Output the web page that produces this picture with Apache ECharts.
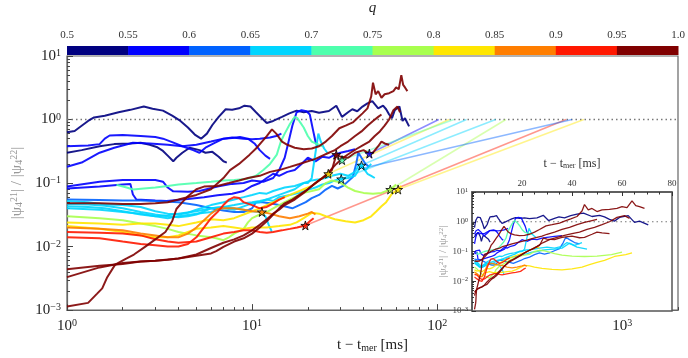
<!DOCTYPE html>
<html>
<head>
<meta charset="utf-8">
<script src="https://cdn.jsdelivr.net/npm/echarts@6/dist/echarts.min.js"></script>
<style>
html, body { margin: 0; padding: 0; background: #fff; }
#chart { width: 688px; height: 358px; }
</style>
</head>
<body>
<div id="chart"></div>
<script>
// colour bins of q
var qEdges = [0.5, 0.55, 0.6, 0.65, 0.7, 0.75, 0.8, 0.85, 0.9, 0.95, 1.0];
var qColors = ['#000080', '#0000ff', '#0062ff', '#00d5ff', '#4effad', '#a8ff4e', '#ffe600', '#ff7e00', '#ff1800', '#800000'];

// curves: [t - t_mer (ms), |psi21| / |psi22|]
var navy1 = [[1,0.63],[1.1,0.66],[1.2,0.8],[1.3,0.95],[1.4,1.08],[1.6,1.15],[1.9,1.3],[2.2,1.42],[2.6,1.6],[2.9,1.48],[3.3,1.38],[3.7,1.15],[4.1,0.95],[4.5,0.75],[4.9,0.58],[5.3,0.5],[5.7,0.6],[6.1,0.82],[6.6,1.1],[7.2,1.45],[7.8,1.42],[8.5,1.5],[9.1,1.65],[9.8,1.6],[10.5,1.3],[11.3,1.05],[12,0.88],[13,0.95],[14.5,1.1],[15.9,1.25],[17.4,1.38],[19,1.3],[21,1.36],[23,1.28],[26,1.36],[28.5,1.65],[30.6,1.1],[33,1.3],[34.8,1.45],[37,1.35],[39.5,1.6],[42,1.8],[44.6,1.95],[48,1.5],[51,1.65],[53,1.45],[55,1.2],[57,1.05],[59,1.4],[62.5,1.6],[65,0.95],[67,1.05],[70.5,0.78]];
var navy2 = [[1,0.3],[1.2,0.33],[1.5,0.38],[1.8,0.41],[2.2,0.42],[2.5,0.43],[2.8,0.4],[3.05,0.37],[3.3,0.32],[3.5,0.27],[3.75,0.22],[3.9,0.25],[4.2,0.3],[4.6,0.36],[5.2,0.33],[5.6,0.3],[6.1,0.31],[6.6,0.26],[7,0.22],[7.3,0.21]];
var blue1 = [[1,0.38],[1.3,0.39],[1.5,0.41],[1.6,0.5],[1.7,0.56],[2,0.57],[2.5,0.55],[3,0.53],[3.3,0.5],[3.7,0.44],[4.2,0.38],[4.8,0.33],[5.2,0.3],[5.6,0.36],[6.2,0.42],[7,0.5],[7.8,0.51],[8.6,0.53],[9.5,0.5],[10.3,0.42],[11,0.33],[11.8,0.27],[12.5,0.24]];
var blue2 = [[1,0.18],[1.2,0.21],[1.5,0.3],[1.8,0.36],[2.27,0.43],[2.8,0.42],[3.5,0.4],[4.2,0.38],[5,0.4],[6,0.45],[7,0.5],[7.8,0.52],[9,0.5],[10,0.49],[11,0.5],[12.5,0.52],[13.5,0.55],[14.4,0.6]];
var blue3 = [[1,0.088],[1.5,0.105],[2,0.112],[3,0.112],[3.3,0.105],[3.5,0.085],[3.75,0.074],[4.5,0.073],[5.2,0.075],[6.5,0.088],[7.8,0.097],[9,0.1],[10,0.11],[11.5,0.105],[13,0.12],[14,0.16],[15,0.25],[15.6,0.4],[16.5,0.8],[17.4,1.3],[18.5,1.4],[19.7,1.35],[20.5,1.2],[21.3,0.7],[22,0.45],[22.6,0.38]];
var blue4 = [[1,0.082],[1.5,0.088],[2,0.095],[2.2,0.097],[2.27,0.066],[2.37,0.055],[3,0.053],[3.45,0.052],[4.5,0.056],[5.5,0.06],[6.5,0.064],[7.8,0.068],[9,0.075],[10,0.09],[11,0.1],[12,0.12],[13,0.14],[14,0.13],[15.5,0.15],[17,0.16],[18.5,0.2],[20,0.25],[22,0.22],[24,0.26],[26,0.25],[28,0.28],[30,0.3],[33,0.32],[36,0.34]];
var royal1 = [[1,0.055],[1.5,0.054],[2,0.053],[2.5,0.053],[3,0.052],[4,0.05],[5,0.045],[6,0.04],[7,0.037],[8,0.035],[9,0.035],[10,0.04],[10.5,0.05],[11.4,0.05],[12.5,0.048],[14,0.045],[15.5,0.042],[16.5,0.04],[18,0.045],[19.5,0.05],[21,0.058],[23,0.065],[25,0.079],[27,0.09],[29,0.082],[31,0.09],[32,0.098],[35,0.125],[36.5,0.2],[37.5,0.3],[39,0.25],[41,0.2],[43,0.18]];
var cyan1 = [[1,0.052],[1.3,0.05],[1.6,0.046],[2,0.045],[2.5,0.042],[3,0.036],[3.5,0.033],[4,0.032],[4.5,0.034],[5,0.038],[6,0.045],[7,0.05],[8,0.055],[9,0.06],[10,0.065],[11,0.07],[12,0.068],[13,0.075],[15,0.085],[17,0.09],[19,0.1],[21,0.11],[23,0.115],[25,0.12],[27,0.13],[30,0.14],[33,0.13],[36,0.15],[38,0.2],[40,0.17],[42,0.14],[44,0.13],[46,0.12]];
var cyan2 = [[1,0.047],[1.3,0.046],[1.6,0.044],[2,0.04],[2.5,0.035],[3,0.032],[3.5,0.03],[4,0.029],[4.5,0.03],[5,0.032],[5.5,0.036],[6,0.04],[7,0.042],[8,0.045],[9,0.048],[10,0.05],[11,0.052],[12,0.055],[13,0.052],[14,0.06],[16,0.065],[18,0.07],[20,0.078],[22,0.085],[24,0.095],[26,0.1],[28,0.11],[30,0.116],[33,0.12],[36,0.13],[39,0.19],[41,0.16],[44,0.2]];
var cyan3 = [[1,0.043],[1.3,0.042],[1.6,0.04],[2,0.036],[2.5,0.032],[3,0.03],[3.5,0.031],[4,0.033],[5,0.036],[6,0.04],[7,0.042],[8,0.04],[9,0.038],[10,0.036],[11,0.035],[11.8,0.03],[12.3,0.022],[12.8,0.017]];
var cyan4 = [[1,0.04],[1.5,0.038],[2,0.035],[2.5,0.033],[3,0.03],[3.5,0.028],[4,0.03],[5,0.033],[6,0.035],[7,0.04],[8,0.038],[9,0.043],[10,0.048],[11,0.05],[12,0.055],[13,0.06],[14,0.065],[15,0.07],[16,0.075],[17,0.08],[18,0.09],[19,0.1],[20,0.1],[21,0.12],[22,0.3],[22.8,0.6],[23.5,0.45],[24.5,0.35],[25.5,0.3]];
var mint1 = [[1.85,0.094],[2.1,0.085],[2.27,0.079],[2.6,0.082],[3,0.085],[3.5,0.09],[4,0.095],[5,0.1],[6,0.105],[7,0.11],[8,0.112],[9.3,0.116],[10.5,0.13],[11.5,0.16],[12.5,0.2],[13.6,0.28],[14.3,0.45],[15,0.6],[16,0.85],[17,1.1],[17.6,1.05],[18.2,0.9],[19,0.75],[20,0.55],[21,0.45],[22,0.42],[23,0.4],[24,0.38]];
var lime1 = [[1,0.03],[1.5,0.028],[2,0.026],[2.5,0.023],[3,0.021],[3.5,0.019],[4,0.017],[5,0.015],[6,0.014],[6.4,0.0135],[7,0.0126],[7.5,0.014],[8,0.016],[9,0.019],[9.5,0.024],[10,0.028],[11,0.032],[12,0.035],[13,0.04],[14,0.045],[15,0.05],[17,0.06],[19,0.07],[21,0.075],[23,0.08],[25,0.1],[27,0.11],[29,0.105],[31,0.095],[33,0.085],[36,0.075],[40,0.07],[45,0.068],[50,0.07],[55.8,0.079],[60,0.095]];
var yellow1 = [[1,0.021],[1.5,0.019],[2,0.017],[2.5,0.015],[3,0.014],[3.5,0.014],[4,0.015],[4.5,0.017],[5,0.019],[6,0.02],[7,0.021],[8,0.02],[9,0.019],[10,0.02],[12,0.02],[14,0.021],[16,0.022],[17.4,0.024],[19,0.028],[21,0.034],[23,0.033],[25,0.03],[28,0.027],[32,0.025],[36,0.024],[40,0.026],[44,0.03],[47,0.036],[50,0.043],[53,0.05],[57,0.068],[61.5,0.079],[64,0.09]];
var yellow2 = [[1,0.024],[1.5,0.023],[2,0.022],[2.5,0.023],[3,0.023],[3.5,0.022],[4,0.021],[5,0.024],[6,0.027],[7,0.026],[8,0.028],[9,0.032],[10,0.036],[11,0.04],[12,0.045],[13,0.05],[14,0.055],[15,0.06],[17,0.07],[19,0.08],[21,0.09],[23,0.11],[25.8,0.14],[27,0.13]];
var orange1 = [[1,0.02],[1.5,0.019],[2,0.018],[2.5,0.016],[3,0.015],[3.5,0.014],[4,0.014],[4.5,0.016],[5,0.02],[5.5,0.026],[6,0.033],[6.5,0.039],[7,0.04],[8,0.04],[9,0.038],[10,0.036],[11.3,0.035],[12.5,0.033],[14,0.03],[16,0.028],[18,0.03],[20,0.033],[21,0.035],[22,0.032]];
var red1 = [[1,0.017],[1.5,0.0165],[2,0.016],[2.5,0.015],[3,0.013],[3.5,0.012],[4,0.0115],[5,0.012],[6,0.014],[7,0.016],[8,0.017],[9,0.018],[10,0.018],[11,0.017],[12,0.0165],[13,0.017],[14.5,0.018],[16,0.019],[17.5,0.02],[19.4,0.0215],[20.5,0.025],[21.5,0.028]];
var red2 = [[1,0.014],[1.5,0.0135],[2,0.012],[2.5,0.011],[3,0.0105],[3.5,0.01],[4,0.01],[4.5,0.011],[5,0.014],[5.5,0.02],[6,0.028],[6.5,0.035],[7,0.045],[7.5,0.055],[8,0.06],[8.5,0.058],[9,0.05],[10,0.045],[11,0.04],[12,0.042],[13,0.048],[14,0.055],[15,0.06]];
var dark1 = [[1,0.048],[1.5,0.048],[2,0.047],[2.5,0.047],[3,0.048],[3.5,0.05],[4,0.055],[5,0.065],[6,0.08],[7,0.12],[7.6,0.16],[8.5,0.2],[9.7,0.28],[10.5,0.35],[11.4,0.46],[12,0.55],[12.8,0.7],[13.5,0.6],[14.5,0.45],[15.5,0.4],[17,0.36],[19,0.34],[21,0.35],[23,0.38],[25,0.45],[27,0.55],[29.6,0.73],[32,0.8],[35,0.9],[37,1.05],[39.5,1.25],[42,1.5],[44,2.3],[45,3.8],[46.5,2.5],[48,2.8],[50,2.2],[52,2.5],[55,2.6],[58,2.8],[60,3.2],[62,3.0],[64,5],[65.5,3.5],[67,3.2],[69,2.8]];
var dark2 = [[1,0.0044],[1.5,0.005],[2,0.0053],[2.5,0.0058],[3,0.006],[3.5,0.0062],[4,0.0065],[5,0.0072],[6,0.0078],[6.4,0.0085],[7,0.0099],[8,0.012],[9,0.0135],[10,0.016],[11,0.02],[12,0.025],[13,0.032],[14,0.04],[15,0.048],[16.5,0.055],[18,0.065],[20,0.08],[22,0.1],[24,0.12],[26,0.15],[28.5,0.2],[31,0.25],[34,0.3],[37,0.35],[40,0.4],[43,0.45],[46,0.55],[49,0.65],[52,0.8],[55,1.0],[58,1.4],[61,1.6],[63,1.3]];
var dark3 = [[1,0.0033],[1.5,0.0047],[2,0.0055],[2.5,0.0058],[3,0.006],[4,0.0065],[5,0.0075],[6,0.0095],[7,0.0115],[8,0.013],[9,0.015],[10,0.018],[11,0.022],[12,0.027],[13,0.033],[14,0.038],[15,0.045],[17,0.055],[19,0.07],[21,0.09],[23,0.11],[25,0.13],[27,0.16],[28.5,0.28],[30,0.26],[33,0.25],[36,0.3],[40,0.33],[43,0.29],[45,0.3],[48,0.38],[50,0.45],[52,0.42],[55,0.4]];
var dark4 = [[1,0.00114],[1.3,0.0013],[1.45,0.0018],[1.55,0.0022],[1.65,0.0033],[1.82,0.0052],[2.1,0.0065],[2.3,0.0075],[2.65,0.01],[3,0.013],[3.4,0.017],[3.7,0.025],[3.9,0.039],[4.2,0.05],[4.5,0.062],[5,0.08],[5.5,0.088],[6.5,0.09],[7.5,0.1],[8.5,0.11],[9.5,0.12],[11,0.13],[12.5,0.15],[14,0.16],[16,0.18],[18,0.2],[20,0.22],[22,0.24],[24,0.27],[26,0.3],[28,0.33],[30,0.38],[33,0.45],[36,0.55],[39,0.65],[42,0.8],[45,0.95],[48,1.1],[50,1.2]];

// [curve, q bin]
var curveList = [
  [navy1, 0], [navy2, 0],
  [blue1, 1], [blue2, 1], [blue3, 1], [blue4, 1],
  [royal1, 2],
  [cyan1, 3], [cyan2, 3], [cyan3, 3], [cyan4, 3],
  [mint1, 4], [lime1, 5],
  [yellow1, 6], [yellow2, 6], [orange1, 7],
  [red1, 8], [red2, 8],
  [dark1, 9], [dark2, 9], [dark3, 9], [dark4, 9]
];

// star markers [t, ratio, q bin]
var stars = [[28.5,0.28,9],[30.6,0.23,4],[43,0.29,1],[39,0.19,3],[25.8,0.14,6],[30.3,0.116,3],[55.8,0.079,5],[61.5,0.079,6],[11.3,0.035,7],[19.4,0.0215,8]];
// straight extrapolations [start, end at ratio 1, q bin]
var extrapolations = [
  [[43,0.29],[102,1],1],
  [[25.8,0.14],[116,1],6],
  [[30.6,0.23],[123,1],4],
  [[39,0.19],[144,1],3],
  [[30.3,0.116],[207,1],3],
  [[55.8,0.079],[235,1],5],
  [[19.4,0.0215],[497,1],8],
  [[39,0.17],[535,1],2],
  [[61.5,0.079],[620,1],6]
];
var unityLine = 1;
var minorLogTicks = [2,3,4,5,6,7,8,9,20,30,40,50,60,70,80,90,200,300,400,500,600,700,800,900,2000];
var minorLogTicksY = [0.002,0.003,0.004,0.005,0.006,0.007,0.008,0.009,0.02,0.03,0.04,0.05,0.06,0.07,0.08,0.09,0.2,0.3,0.4,0.5,0.6,0.7,0.8,0.9,2,3,4,5,6,7,8,9];

var serif = 'Liberation Serif';
function powLabel(v) {
  var e = Math.round(Math.log10(v));
  return '10{sup|' + (e < 0 ? '\u2212' + (-e) : e) + '}';
}
function richPow(size) {
  return {
    sup: { fontSize: Math.round(size * 0.68), lineHeight: Math.round(size * 0.7), verticalAlign: 'top', fontFamily: serif, color: '#222' }
  };
}
var star = 'path://M50,0 L61,35 L98,35 L68,57 L79,91 L50,70 L21,91 L32,57 L2,35 L39,35 Z';

var series = [];
// colour bar
series.push({
  type: 'custom', xAxisIndex: 3, yAxisIndex: 4, silent: true,
  data: qColors.map(function (c, i) { return [qEdges[i], qEdges[i + 1], i]; }),
  renderItem: function (params, api) {
    var p0 = api.coord([api.value(0), 1]);
    var p1 = api.coord([api.value(1), 0]);
    return { type: 'rect', shape: { x: p0[0], y: p0[1], width: p1[0] - p0[0] + 0.5, height: p1[1] - p0[1] },
      style: { fill: qColors[api.value(2)] } };
  }
});
// reference lines
series.push({ type: 'line', xAxisIndex: 0, yAxisIndex: 0, data: [[1, unityLine], [2000, unityLine]], symbol: 'none',
  lineStyle: { color: '#777', width: 1.5, type: [1.5, 3] }, z: 2, silent: true });
extrapolations.forEach(function (e) {
  series.push({ type: 'line', xAxisIndex: 0, yAxisIndex: 0, data: [e[0], e[1]], symbol: 'none',
    lineStyle: { color: qColors[e[2]], width: 1.6, opacity: 0.45 }, z: 2, silent: true });
});
curveList.forEach(function (c) {
  series.push({ type: 'line', xAxisIndex: 0, yAxisIndex: 0, data: c[0], symbol: 'none',
    lineStyle: { color: qColors[c[1]], width: 2, opacity: 0.9 }, z: 3, silent: true });
});
series.push({ type: 'scatter', xAxisIndex: 0, yAxisIndex: 0, symbol: star, symbolSize: 9, z: 5, silent: true,
  data: stars.map(function (s) { return { value: [s[0], s[1]], itemStyle: { color: qColors[s[2]] } }; }),
  itemStyle: { borderColor: '#000', borderWidth: 1 } });
// inset
series.push({ type: 'line', xAxisIndex: 2, yAxisIndex: 2, data: [[0, unityLine], [80, unityLine]], symbol: 'none',
  lineStyle: { color: '#777', width: 1.2, type: [1.5, 3] }, z: 8, silent: true });
curveList.forEach(function (c) {
  series.push({ type: 'line', xAxisIndex: 2, yAxisIndex: 2, data: c[0], symbol: 'none',
    lineStyle: { color: qColors[c[1]], width: 1.3, opacity: 0.9 }, z: 9, silent: true });
});

var chart = echarts.init(document.getElementById('chart'));
chart.setOption({
  animation: false,
  grid: [
    { left: 67, top: 56, right: 10, bottom: 42, show: true, borderColor: '#666', borderWidth: 1.2, backgroundColor: 'transparent' },
    { left: 472, top: 192, width: 200, height: 119, show: true, borderColor: '#555', borderWidth: 1.5, backgroundColor: '#fff', z: 6 },
    { left: 67, right: 10, top: 45, height: 10 }
  ],
  xAxis: [
    { type: 'log', gridIndex: 0, min: 1, max: 2000, logBase: 10,
      name: 't \u2212 t{sub|mer} [ms]', nameLocation: 'middle', nameGap: 26,
      nameTextStyle: { fontFamily: serif, fontSize: 15, color: '#222', rich: { sub: { fontSize: 10, lineHeight: 9, verticalAlign: 'bottom', fontFamily: serif, color: '#222' } } },
      axisLine: { lineStyle: { color: '#666', width: 1.2 } },
      axisTick: { inside: true, length: 6, lineStyle: { color: '#444' } },
      axisLabel: { formatter: powLabel, fontFamily: serif, fontSize: 15, color: '#222', margin: 8, showMaxLabel: false, rich: richPow(15) },
      splitLine: { show: false } },
    { type: 'log', gridIndex: 0, min: 1, max: 2000, position: 'bottom',
      axisLine: { show: false }, axisLabel: { show: false }, splitLine: { show: false },
      axisTick: { inside: true, length: 3, customValues: minorLogTicks, lineStyle: { color: '#444' } } },
    { type: 'value', gridIndex: 1, min: 0, max: 80, interval: 20, position: 'top', z: 8,
      name: 't \u2212 t{sub|mer} [ms]', nameLocation: 'middle', nameGap: 22,
      nameTextStyle: { fontFamily: serif, fontSize: 12, color: '#333', rich: { sub: { fontSize: 8, lineHeight: 8, verticalAlign: 'bottom', fontFamily: serif, color: '#333' } } },
      axisLine: { lineStyle: { color: '#555', width: 1.5 } },
      axisTick: { inside: true, length: 4, lineStyle: { color: '#333' } },
      minorTick: { show: true, splitNumber: 4, length: 2.5, lineStyle: { color: '#333' } },
      axisLabel: { fontFamily: serif, fontSize: 9, color: '#333', margin: 4, showMinLabel: false },
      splitLine: { show: false } },
    { type: 'value', gridIndex: 2, min: 0.5, max: 1.0, interval: 0.05, position: 'top',
      name: 'q', nameLocation: 'middle', nameGap: 30,
      nameTextStyle: { fontFamily: serif, fontStyle: 'italic', fontSize: 15, color: '#222' },
      axisLine: { show: false }, axisTick: { show: false }, splitLine: { show: false },
      axisLabel: { fontFamily: serif, fontSize: 11, color: '#333', margin: 5,
        formatter: function (v) { return v === 1 ? '1.0' : String(parseFloat(v.toFixed(2))); } } }
  ],
  yAxis: [
    { type: 'log', gridIndex: 0, min: 0.001, max: 10, logBase: 10,
      name: '|\u03c8{sub|4}{sup|21}| / |\u03c8{sub|4}{sup|22}|', nameLocation: 'middle', nameGap: 40,
      nameTextStyle: { fontFamily: serif, fontSize: 15, color: '#999',
        rich: { sub: { fontSize: 10, lineHeight: 9, verticalAlign: 'bottom', fontFamily: serif, color: '#999' },
                sup: { fontSize: 10, lineHeight: 9, verticalAlign: 'top', fontFamily: serif, color: '#999' } } },
      axisLine: { lineStyle: { color: '#666', width: 1.2 } },
      axisTick: { inside: true, length: 6, lineStyle: { color: '#444' } },
      axisLabel: { formatter: powLabel, fontFamily: serif, fontSize: 15, color: '#222', margin: 6, rich: richPow(15) },
      splitLine: { show: false } },
    { type: 'log', gridIndex: 0, min: 0.001, max: 10, position: 'left',
      axisLine: { show: false }, axisLabel: { show: false }, splitLine: { show: false },
      axisTick: { inside: true, length: 3, customValues: minorLogTicksY, lineStyle: { color: '#444' } } },
    { type: 'log', gridIndex: 1, min: 0.001, max: 10, z: 8,
      name: '|\u03c8{sub|4}{sup|21}| / |\u03c8{sub|4}{sup|22}|', nameLocation: 'middle', nameGap: 20,
      nameTextStyle: { fontFamily: serif, fontSize: 11, color: '#999',
        rich: { sub: { fontSize: 7, lineHeight: 7, verticalAlign: 'bottom', fontFamily: serif, color: '#999' },
                sup: { fontSize: 7, lineHeight: 7, verticalAlign: 'top', fontFamily: serif, color: '#999' } } },
      axisLine: { lineStyle: { color: '#555', width: 1.5 } },
      axisTick: { inside: true, length: 4, lineStyle: { color: '#333' } },
      axisLabel: { formatter: powLabel, fontFamily: serif, fontSize: 9, color: '#444', margin: 4, rich: richPow(9) },
      splitLine: { show: false } },
    { type: 'log', gridIndex: 1, min: 0.001, max: 10, position: 'left', z: 8,
      axisLine: { show: false }, axisLabel: { show: false }, splitLine: { show: false },
      axisTick: { inside: true, length: 2, customValues: minorLogTicksY, lineStyle: { color: '#333' } } },
    { type: 'value', gridIndex: 2, min: 0, max: 1, show: false }
  ],
  series: series
});
</script>
</body>
</html>
